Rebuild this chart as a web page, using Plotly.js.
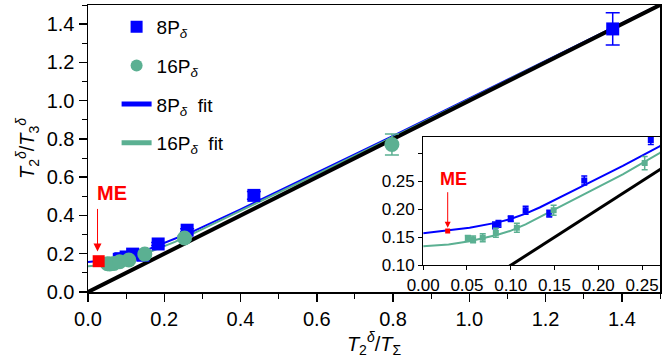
<!DOCTYPE html>
<html>
<head>
<meta charset="utf-8">
<script src="https://cdn.plot.ly/plotly-3.0.1.min.js"></script>
<style>
  html, body { margin: 0; padding: 0; background: #fff; }
  #chart { width: 665px; height: 363px; }
</style>
</head>
<body>
<div id="chart"></div>
<script>
// 8P_delta points
const p8X   = [0.082, 0.086, 0.100, 0.117, 0.144, 0.184, 0.260, 0.435, 1.376];
const p8Y   = [0.171, 0.174, 0.183, 0.198, 0.192, 0.251, 0.323, 0.505, 1.375];
const p8Err = [0.006, 0.006, 0.005, 0.007, 0.006, 0.008, 0.008, 0.020, 0.084];

// 16P_delta points
const p16X   = [0.051, 0.057, 0.068, 0.083, 0.107, 0.149, 0.253, 0.797];
const p16Y   = [0.148, 0.146, 0.149, 0.158, 0.167, 0.198, 0.282, 0.771];
const p16Err = [0.005, 0.006, 0.007, 0.008, 0.008, 0.009, 0.012, 0.055];

// ME point
const meX = [0.028];
const meY = [0.161];

// fit curves
const fitX   = [0, 0.029, 0.053, 0.084, 0.099, 0.117, 0.133, 0.183, 0.228, 0.270, 0.40, 0.60, 0.80, 1.00, 1.20, 1.50];
const fit8Y  = [0.157, 0.162, 0.167, 0.176, 0.182, 0.192, 0.203, 0.242, 0.277, 0.312, 0.432, 0.622, 0.816, 1.012, 1.208, 1.503];
const fit16Y = [0.134, 0.137, 0.143, 0.154, 0.161, 0.173, 0.186, 0.226, 0.262, 0.300, 0.424, 0.616, 0.811, 1.008, 1.205, 1.501];

// y = x reference
const diagX = [0, 1.5];
const diagY = [0, 1.5];

const blue = '#0000ff';
const green = '#5bb092';
const red = '#ff0000';
const font = 'Liberation Sans, Arial, sans-serif';

function fitTrace(x, y, color, name, xa, ya, show, rank) {
    return {
        x: x, y: y, xaxis: xa, yaxis: ya,
        mode: 'lines', name: name,
        legendgroup: 'g' + rank, legendrank: rank, showlegend: show,
        line: { color: color, width: 2 },
        hoverinfo: 'skip',
    };
}

function pointTrace(x, y, err, color, symbol, size, capw, name, xa, ya, show, rank) {
    return {
        x: x, y: y, xaxis: xa, yaxis: ya,
        mode: 'markers', name: name,
        legendgroup: 'g' + rank, legendrank: rank, showlegend: show,
        marker: { color: color, symbol: symbol, size: size },
        error_y: { type: 'data', array: err, visible: true, color: color, thickness: 1.5, width: capw },
    };
}

let data = [
    // main panel
    fitTrace(fitX, fit8Y, blue, '8P<sub><i>δ</i></sub>&nbsp;&nbsp;fit', 'x', 'y', true, 3),
    fitTrace(fitX, fit16Y, green, '16P<sub><i>δ</i></sub>&nbsp;&nbsp;fit', 'x', 'y', true, 4),
    { x: diagX, y: diagY, xaxis: 'x', yaxis: 'y', mode: 'lines', showlegend: false,
      line: { color: '#000', width: 4 }, hoverinfo: 'skip' },
    pointTrace(p8X, p8Y, p8Err, blue, 'square', 13, 7, '8P<sub><i>δ</i></sub>', 'x', 'y', true, 1),
    pointTrace(p16X, p16Y, p16Err, green, 'circle', 15, 7, '16P<sub><i>δ</i></sub>', 'x', 'y', true, 2),
    { x: meX, y: meY, xaxis: 'x', yaxis: 'y', mode: 'markers', showlegend: false,
      marker: { color: red, symbol: 'square', size: 12 } },

    // inset
    fitTrace(fitX, fit8Y, blue, '', 'x2', 'y2', false, 3),
    fitTrace(fitX, fit16Y, green, '', 'x2', 'y2', false, 4),
    { x: diagX, y: diagY, xaxis: 'x2', yaxis: 'y2', mode: 'lines', showlegend: false,
      line: { color: '#000', width: 3 }, hoverinfo: 'skip' },
    pointTrace(p8X, p8Y, p8Err, blue, 'square', 6, 3, '', 'x2', 'y2', false, 1),
    pointTrace(p16X, p16Y, p16Err, green, 'square', 6, 3, '', 'x2', 'y2', false, 2),
    { x: meX, y: meY, xaxis: 'x2', yaxis: 'y2', mode: 'markers', showlegend: false,
      marker: { color: red, symbol: 'square', size: 5 } },
];

let layout = {
    width: 665,
    height: 363,
    margin: { l: 88, r: 5, t: 5, b: 71 },
    paper_bgcolor: '#fff',
    plot_bgcolor: '#fff',
    font: { family: font, size: 19, color: '#000' },
    showlegend: true,

    legend: {
        x: 0.05, y: 0.99, xanchor: 'left', yanchor: 'top',
        bgcolor: 'rgba(0,0,0,0)',
        font: { family: font, size: 19 },
        traceorder: 'grouped',
        tracegroupgap: 11,
        itemsizing: 'constant',
    },

    xaxis: {
        domain: [0, 1],
        range: [0, 1.5],
        dtick: 0.2, tickformat: '.1f',
        ticks: 'outside', ticklen: 8, tickwidth: 1.5, tickcolor: '#000',
        minor: { dtick: 0.1, ticks: 'outside', ticklen: 5, tickwidth: 1, tickcolor: '#000' },
        showline: true, linewidth: 1.5, linecolor: '#000', mirror: true,
        showgrid: false, zeroline: false,
        tickfont: { size: 20 },
        title: { text: '<i>T</i><sub>2</sub><sup><i>δ</i></sup>/<i>T</i><sub>Σ</sub>', font: { size: 20 }, standoff: 4 },
    },
    yaxis: {
        domain: [0, 1],
        range: [0, 1.5],
        dtick: 0.2, tickformat: '.1f',
        ticks: 'outside', ticklen: 8, tickwidth: 1.5, tickcolor: '#000',
        minor: { dtick: 0.1, ticks: 'outside', ticklen: 5, tickwidth: 1, tickcolor: '#000' },
        showline: true, linewidth: 1.5, linecolor: '#000', mirror: true,
        showgrid: false, zeroline: false,
        tickfont: { size: 20 },
        title: { text: '<i>T</i><sub>2</sub><sup><i>δ</i></sup>/<i>T</i><sub>3</sub><sup><i>δ</i></sup>', font: { size: 20 }, standoff: 6 },
    },

    xaxis2: {
        domain: [0.586, 1],
        anchor: 'y2',
        range: [0, 0.2705],
        dtick: 0.05, tickformat: '.2f',
        ticks: 'outside', ticklen: 4, tickcolor: '#000',
        showline: true, linewidth: 1, linecolor: '#000', mirror: true,
        showgrid: false, zeroline: false,
        tickfont: { size: 17 },
    },
    yaxis2: {
        domain: [0.093, 0.541],
        anchor: 'x2',
        range: [0.10, 0.329],
        tickvals: [0.10, 0.15, 0.20, 0.25, 0.30],
        ticktext: ['0.10', '0.15', '0.20', '0.25', ''],
        ticks: 'outside', ticklen: 4, tickcolor: '#000',
        showline: true, linewidth: 1, linecolor: '#000', mirror: true,
        showgrid: false, zeroline: false,
        tickfont: { size: 17 },
    },

    annotations: [
        {
            xref: 'x', yref: 'y', x: 0.062, y: 0.517,
            text: '<b>ME</b>', showarrow: false,
            font: { color: red, size: 20 },
        },
        {
            xref: 'x', yref: 'y', x: meX[0] - 0.003, y: 0.212,
            text: '', showarrow: true, ax: 0, ay: -44,
            arrowcolor: red, arrowwidth: 1, arrowhead: 2, arrowsize: 1.6,
        },
        {
            xref: 'x2', yref: 'y2', x: 0.0345, y: 0.253,
            text: '<b>ME</b>', showarrow: false,
            font: { color: red, size: 18 },
        },
        {
            xref: 'x2', yref: 'y2', x: meX[0], y: 0.167,
            text: '', showarrow: true, ax: 0, ay: -37,
            arrowcolor: red, arrowwidth: 1, arrowhead: 2, arrowsize: 1.2,
        },
    ],
};

Plotly.newPlot('chart', data, layout, { displayModeBar: false, staticPlot: true });
</script>
</body>
</html>
